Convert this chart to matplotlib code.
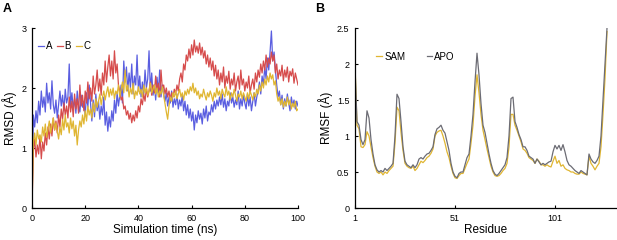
import numpy as np
import matplotlib.pyplot as plt

plt.rcParams['font.family'] = ['Liberation Sans', 'DejaVu Sans']

# panel A: RMSD vs simulation time, sampled every 0.5 ns
time_ns = np.arange(0, 100.5, 0.5)
rmsd_a = [
    0.0, 1.55, 1.35, 1.62, 1.42, 1.78, 1.55, 1.95, 1.68, 1.85, 1.60, 2.08, 1.75, 1.92, 1.65, 2.12, 1.72, 1.58, 1.80, 1.50,
    1.72, 1.95, 1.70, 1.88, 1.62, 1.98, 1.75, 1.85, 2.40, 1.70, 1.92, 1.65, 1.82, 1.58, 1.95, 1.72, 1.60, 1.88, 1.68, 1.78,
    1.55, 1.92, 1.68, 2.05, 1.75, 1.45, 1.80, 1.52, 1.90, 1.62, 1.78, 1.48, 1.70, 1.55, 1.85, 1.38, 1.60, 1.28, 1.52, 1.35,
    1.62, 1.45, 1.80, 1.58, 1.92, 1.70, 1.88, 2.05, 1.75, 2.45, 2.10, 2.35, 1.95, 2.25, 2.00, 2.40, 1.90, 2.20, 2.05, 2.55,
    1.95, 2.20, 1.85, 2.10, 1.90, 2.30, 2.00, 2.15, 2.62, 1.95, 2.25, 1.88, 2.05, 1.80, 2.18, 1.92, 2.30, 1.85, 2.05, 1.90,
    1.78, 1.92, 1.70, 1.85, 1.75, 1.95, 1.68, 1.82, 1.72, 1.90, 1.65, 1.80, 1.70, 1.88, 1.62, 1.78, 1.55, 1.72, 1.50, 1.65,
    1.45, 1.60, 1.30, 1.55, 1.42, 1.62, 1.48, 1.58, 1.40, 1.65, 1.50, 1.70, 1.45, 1.60, 1.55, 1.72, 1.60, 1.78, 1.65, 1.80,
    1.70, 1.85, 1.72, 1.90, 1.68, 1.82, 1.62, 1.78, 1.70, 1.92, 1.75, 1.85, 1.68, 1.80, 1.72, 1.95, 1.65, 1.82, 1.70, 1.88,
    1.75, 1.65, 1.90, 1.70, 1.85, 1.62, 1.78, 1.92, 1.70, 1.85, 1.95, 2.10, 1.90, 2.20, 2.05, 2.35, 2.15, 2.50, 2.30, 2.60,
    2.95, 2.45, 2.60, 2.30, 2.05, 1.85, 1.95, 1.72, 1.88, 1.65, 1.82, 1.70, 1.90, 1.75, 1.62, 1.85, 1.70, 1.80, 1.65, 1.78,
    1.70]
rmsd_b = [
    0.0, 0.95, 1.15, 0.85, 1.05, 0.90, 1.20, 0.82, 1.10, 0.95, 1.25, 1.05, 1.35, 1.15, 1.40, 1.20, 1.50, 1.30, 1.45, 1.25,
    1.55, 1.35, 1.65, 1.48, 1.75, 1.55, 1.70, 1.50, 1.85, 1.60, 1.78, 1.52, 1.90, 1.65, 1.82, 1.58, 2.05, 1.70, 1.88, 1.62,
    1.95, 1.75, 2.10, 1.82, 2.00, 1.78, 2.20, 1.90, 2.05, 2.30, 1.95, 2.15, 1.88, 2.25, 2.05, 2.45, 2.10, 2.35, 2.55, 2.20,
    2.45, 2.15, 2.62, 2.25, 2.40, 2.05, 1.95, 1.80, 1.85, 1.65, 1.70, 1.55, 1.62, 1.48, 1.58, 1.42, 1.55, 1.45, 1.62, 1.50,
    1.70, 1.60, 1.82, 1.72, 1.90, 1.78, 2.00, 1.85, 1.95, 2.10, 1.88, 2.05, 1.92, 2.20, 1.95, 2.08, 1.85, 2.30, 1.98, 2.05,
    1.90, 2.00, 1.85, 1.95, 1.80, 1.92, 1.85, 1.98, 1.90, 2.05, 1.95, 2.15, 2.25, 2.10, 2.40, 2.30, 2.55, 2.45, 2.65, 2.50,
    2.72, 2.55, 2.80, 2.60, 2.70, 2.58, 2.75, 2.55, 2.68, 2.50, 2.62, 2.40, 2.55, 2.35, 2.50, 2.30, 2.45, 2.20, 2.38, 2.15,
    2.30, 2.05, 2.25, 2.10, 2.35, 2.00, 2.20, 2.08, 2.28, 1.98, 2.15, 2.05, 2.25, 1.95, 2.10, 2.20, 1.98, 2.30, 2.05, 2.15,
    1.95, 2.10, 2.00, 2.20, 1.92, 2.05, 2.15, 1.98, 2.25, 2.10, 2.30, 2.18, 2.40, 2.25, 2.45, 2.30, 2.55, 2.35, 2.50, 2.40,
    2.60, 2.45, 2.55, 2.25, 2.40, 2.15, 2.30, 2.20, 2.38, 2.12, 2.30, 2.18, 2.35, 2.10, 2.28, 2.20, 2.32, 2.08, 2.25, 2.15,
    2.05]
rmsd_c = [
    0.0, 1.10, 1.25, 1.05, 1.30, 1.15, 1.22, 1.10, 1.35, 1.20, 1.40, 1.18, 1.32, 1.45, 1.25, 1.38, 1.50, 1.30, 1.42, 1.28,
    1.15, 1.35, 1.22, 1.48, 1.30, 1.55, 1.35, 1.42, 1.25, 1.50, 1.32, 1.45, 1.20, 1.38, 1.05, 1.30, 1.45, 1.35, 1.55, 1.40,
    1.62, 1.45, 1.70, 1.55, 1.65, 1.50, 1.75, 1.60, 1.82, 1.68, 1.78, 1.90, 1.72, 1.85, 1.95, 1.80, 1.92, 2.02, 1.85, 1.98,
    1.88, 2.00, 1.82, 1.95, 1.90, 2.05, 1.85, 1.98, 2.10, 1.92, 2.30, 1.95, 2.05, 1.85, 2.00, 1.90, 2.08, 1.82, 1.95, 1.88,
    2.02, 1.90, 1.98, 1.85, 2.05, 1.92, 2.00, 1.88, 1.95, 2.08, 1.92, 1.98, 2.05, 1.90, 2.00, 1.85, 1.95, 1.90, 2.02, 1.88,
    1.75, 1.60, 1.48, 1.70, 1.85, 1.78, 1.92, 1.85, 1.95, 1.82, 1.90, 1.98, 1.85, 1.92, 1.80, 1.95, 1.88, 1.98, 1.90, 2.02,
    1.95, 2.08, 1.92, 2.00, 1.88, 1.95, 1.82, 1.90, 1.85, 1.98, 1.88, 1.80, 1.92, 1.85, 1.95, 1.88, 1.78, 1.92, 1.85, 2.00,
    1.88, 1.95, 1.82, 1.98, 1.90, 1.85, 2.02, 1.88, 1.95, 1.80, 1.92, 1.85, 1.98, 1.88, 1.78, 1.90, 1.85, 1.95, 1.82, 1.92,
    1.85, 1.78, 1.92, 1.82, 1.95, 1.88, 1.80, 1.92, 1.85, 1.98, 1.90, 2.05, 1.95, 2.10, 2.00, 2.15, 2.05, 2.20, 2.10, 2.25,
    2.15, 2.22, 2.05, 2.12, 1.90, 1.78, 1.85, 1.72, 1.82, 1.68, 1.78, 1.70, 1.85, 1.72, 1.80, 1.65, 1.75, 1.68, 1.78, 1.62,
    1.65]

# panel B: RMSF per residue (1..127)
residue = np.arange(1, 128)
rmsf_apo = [
    1.95, 1.20, 1.15, 0.95, 0.88, 0.95, 1.35, 1.25, 0.95, 0.75,
    0.60, 0.53, 0.50, 0.52, 0.50, 0.55, 0.52, 0.55, 0.58, 0.62,
    1.00, 1.58, 1.52, 1.20, 0.85, 0.65, 0.60, 0.58, 0.56, 0.60,
    0.56, 0.60, 0.68, 0.70, 0.68, 0.72, 0.75, 0.76, 0.80, 0.85,
    1.02, 1.10, 1.12, 1.15, 1.08, 1.04, 0.92, 0.80, 0.62, 0.50,
    0.44, 0.42, 0.48, 0.50, 0.50, 0.60, 0.70, 0.75, 1.00, 1.30,
    1.75, 2.15, 1.85, 1.45, 1.15, 1.05, 0.90, 0.75, 0.62, 0.52,
    0.47, 0.45, 0.48, 0.52, 0.56, 0.60, 0.70, 1.00, 1.52, 1.54,
    1.20, 1.12, 1.02, 0.95, 0.85, 0.85, 0.80, 0.72, 0.70, 0.68,
    0.62, 0.68, 0.64, 0.60, 0.62, 0.60, 0.62, 0.64, 0.65, 0.78,
    0.87, 0.82, 0.87, 0.80, 0.88, 0.78, 0.66, 0.60, 0.58, 0.55,
    0.52, 0.50, 0.48, 0.52, 0.50, 0.48, 0.46, 0.75, 0.68, 0.64,
    0.62, 0.66, 0.72, 1.00, 1.50, 2.00, 2.50]
rmsf_sam = [
    2.00, 1.15, 1.10, 0.85, 0.84, 0.88, 1.06, 1.00, 0.85, 0.70,
    0.58, 0.50, 0.48, 0.50, 0.46, 0.50, 0.48, 0.52, 0.55, 0.58,
    0.90, 1.40, 1.35, 1.05, 0.80, 0.62, 0.58, 0.56, 0.55, 0.58,
    0.52, 0.55, 0.60, 0.65, 0.63, 0.66, 0.70, 0.72, 0.76, 0.82,
    1.00, 1.05, 1.07, 1.08, 1.00, 0.90, 0.78, 0.70, 0.58, 0.48,
    0.42, 0.41, 0.45, 0.48, 0.48, 0.55, 0.62, 0.68, 0.90, 1.15,
    1.55, 1.85, 1.60, 1.30, 1.08, 0.95, 0.82, 0.70, 0.58, 0.50,
    0.45, 0.44, 0.45, 0.48, 0.52, 0.55, 0.62, 0.85, 1.30, 1.30,
    1.15, 1.08, 1.00, 0.92, 0.82, 0.80, 0.76, 0.70, 0.68, 0.66,
    0.62, 0.68, 0.65, 0.60, 0.60, 0.58, 0.60, 0.58, 0.57, 0.65,
    0.72, 0.62, 0.66, 0.58, 0.60, 0.55, 0.53, 0.52, 0.50, 0.50,
    0.48, 0.47, 0.47, 0.50, 0.48, 0.47, 0.46, 0.72, 0.62, 0.58,
    0.53, 0.58, 0.62, 0.85, 1.30, 1.80, 2.45]

blue = '#5a5ee0'
red = '#d64c4c'
gold = '#e0b632'
grey = '#6c6c74'

fig = plt.figure(figsize=(6.17, 2.40), dpi=100)
ax1 = fig.add_axes([32/617, 32/240, 266/617, 180/240])
ax2 = fig.add_axes([355/617, 32/240, 261/617, 180/240])

ax1.plot(time_ns, rmsd_a, color=blue, lw=0.9, label='A')
ax1.plot(time_ns, rmsd_b, color=red, lw=0.9, label='B')
ax1.plot(time_ns, rmsd_c, color=gold, lw=0.9, label='C')
ax1.set_xlim(0, 100)
ax1.set_ylim(0, 3)
ax1.set_xticks([0, 20, 40, 60, 80, 100])
ax1.set_yticks([0, 1, 2, 3])
ax1.set_xlabel('Simulation time (ns)', fontsize=8.5, labelpad=1)
ax1.set_ylabel('RMSD (Å)', fontsize=8.5, labelpad=3)
ax1.legend(loc='upper left', bbox_to_anchor=(0.0, 0.96), ncol=3, frameon=False,
           fontsize=7, handlelength=0.6, handletextpad=0.2, columnspacing=0.5,
           borderaxespad=0.2)

ax2.plot(residue, rmsf_sam, color=gold, lw=0.9, label='SAM')
ax2.plot(residue, rmsf_apo, color=grey, lw=0.9, label='APO')
ax2.set_xlim(1, 131.5)
ax2.set_ylim(0, 2.5)
ax2.set_xticks([1, 51, 101])
ax2.set_yticks([0, 0.5, 1, 1.5, 2, 2.5])
ax2.set_yticklabels(['0', '0.5', '1', '1.5', '2', '2.5'])
ax2.set_xlabel('Residue', fontsize=8.5, labelpad=1)
ax2.set_ylabel('RMSF (Å)', fontsize=8.5, labelpad=3)
ax2.legend(loc='upper left', bbox_to_anchor=(0.06, 0.90), ncol=2, frameon=False,
           fontsize=7, handlelength=0.6, handletextpad=0.2, columnspacing=2.2,
           borderaxespad=0.2)

for ax in (ax1, ax2):
    ax.spines['top'].set_visible(False)
    ax.spines['right'].set_visible(False)
    ax.spines['left'].set_linewidth(0.9)
    ax.spines['bottom'].set_linewidth(0.9)
    ax.tick_params(direction='in', length=2, width=0.8, labelsize=6.5, pad=4)

fig.text(3/617, 1 - 9/240, 'A', fontsize=9, fontweight='bold', va='center')
fig.text(315/617, 1 - 9/240, 'B', fontsize=9, fontweight='bold', va='center')

fig.savefig('out.png', dpi=100)
